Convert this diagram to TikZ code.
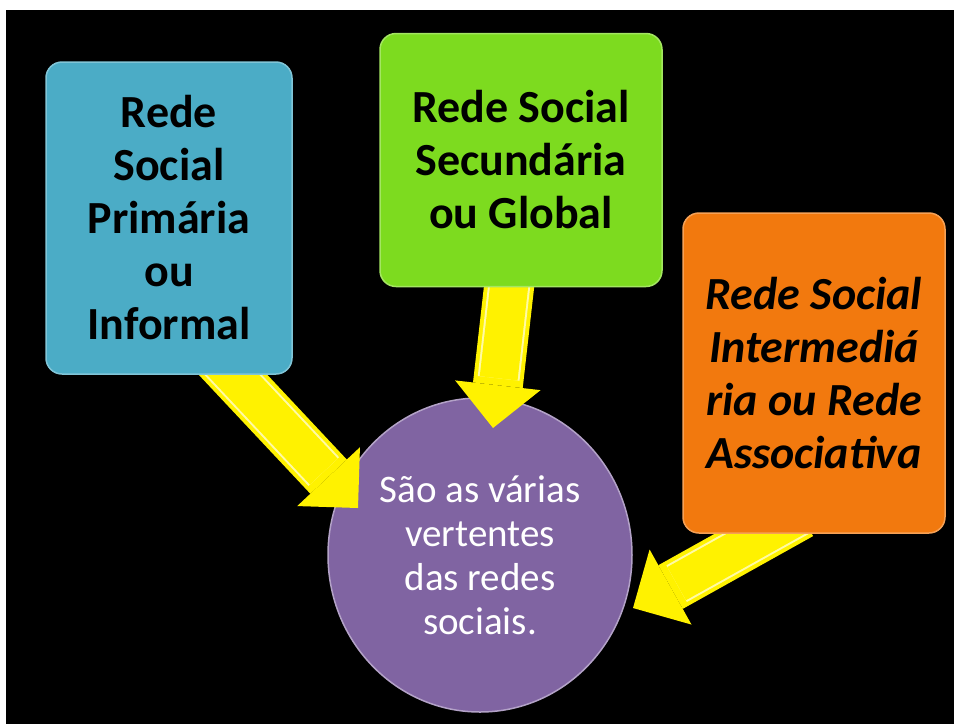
\documentclass[tikz,border=0pt]{standalone}
\usepackage{fontspec}
\setmainfont{Carlito}
\usetikzlibrary{positioning,shapes.geometric,arrows.meta,calc}
\definecolor{aqua}{RGB}{75,172,198}
\definecolor{lime}{RGB}{125,219,31}
\definecolor{tang}{RGB}{242,121,14}
\definecolor{lilac}{RGB}{128,100,162}
\pgfdeclarelayer{canvas}
\pgfdeclarelayer{back}
\pgfdeclarelayer{mid}
\pgfsetlayers{canvas,back,mid,main}

\begin{document}
\begin{tikzpicture}[x=1pt,y=-1pt,on grid,
  box/.style={rectangle,rounded corners=16pt,inner sep=0pt,align=center,
    font={\fontsize{46}{53}\selectfont\bfseries},text=black,line width=1.5pt},
  hub/.style={ellipse,minimum width=304pt,minimum height=314pt,inner sep=0pt,
    fill=lilac,draw=lilac!60!white,line width=1.5pt,text=white,align=center,
    font={\fontsize{39}{44}\selectfont}},
  bigarrow/.style={yellow,line width=50pt,shorten <=-40pt,
    -{Triangle[length=43pt,width=86pt,line width=0pt]}},
  glint/.style={line width=#1,shorten <=-40pt,shorten >=50pt}]
  \useasboundingbox (0,0) rectangle (954,724);
  \begin{pgfonlayer}{canvas}
  \fill[white] (0,0) rectangle (954,724);
  \fill[black] (6,10) rectangle (954,724);
  \end{pgfonlayer}
  \begin{pgfonlayer}{back}
  \node[hub] (circ) at (480,555) {São as várias\\vertentes\\das redes\\sociais.};
  \end{pgfonlayer}
  \node[box,fill=aqua,draw=aqua!70!white,minimum width=246pt,minimum height=312pt]
    (prim) [above left=337pt and 311pt of circ] {Rede\\Social\\Primária\\ou\\Informal};
  \node[box,fill=lime,draw=lime!70!white,minimum width=282pt,minimum height=253pt]
    (sec) [above right=395pt and 41pt of circ] {Rede Social\\Secundária\\ou Global};
  \node[box,fill=tang,draw=tang!70!white,minimum width=262pt,minimum height=320pt,
    font={\fontsize{46}{53}\selectfont\bfseries\itshape}]
    (inter) [above right=182pt and 334pt of circ] {Rede Social\\Intermediá\\ria ou Rede\\Associativa};
  % arrow ends
  \coordinate (from1) at ($(prim.south)+(64,0)$);
  \coordinate (to1) at ($(circ.center)+(-122,-47)$);
  \coordinate (from2) at ($(sec.south)+(-12,0)$);
  \coordinate (to2) at ($(circ.center)+(13,-127)$);
  \coordinate (from3) at ($(inter.south)+(-48,0)$);
  \coordinate (to3) at ($(circ.center)+(153,53)$);
  \begin{pgfonlayer}{mid}
  \foreach \i in {1,2,3} {
    \draw[bigarrow] (from\i) -- (to\i);
    \draw[glint=42pt,yellow!35!white] (from\i) -- (to\i);
    \draw[glint=38pt,yellow] (from\i) -- (to\i);
  }
  \end{pgfonlayer}
\end{tikzpicture}
\end{document}
